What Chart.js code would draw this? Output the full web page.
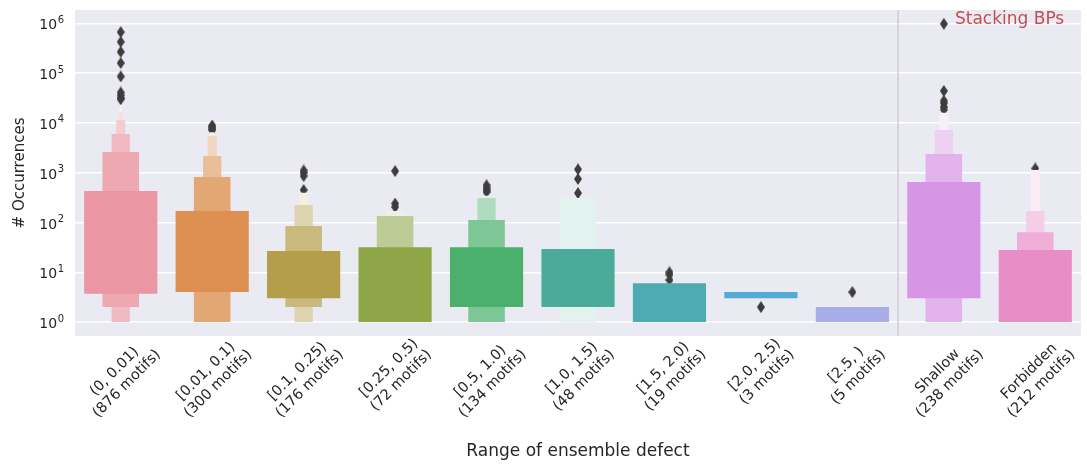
<!DOCTYPE html>
<html><head><meta charset="utf-8">
<script src="https://cdn.jsdelivr.net/npm/chart.js@4.4.0/dist/chart.umd.min.js"></script>
<style>html,body{margin:0;padding:0;background:#fff}#wrap{width:1087px;height:468px;position:relative}</style>
</head><body><div id="wrap"><canvas id="c"></canvas></div>
<script>
// ---- data ----
const categories = ['(0, 0.01)','[0.01, 0.1)','[0.1, 0.25)','[0.25, 0.5)','[0.5, 1.0)','[1.0, 1.5)','[1.5, 2.0)','[2.0, 2.5)','[2.5, )','Shallow','Forbidden'];
const motifCounts = [876,300,176,72,134,48,19,3,5,238,212];
// letter-value boxes, level 1 = widest (middle 50%), each next level narrower
const level1 = [[3.7,428],[4,170],[3,26.7],[1,32],[2,32],[2,29.3],[1,6],[3,4],[1,2],[3,649],[1,28]];
const level2 = [[2,2600],[1,818],[2,85],[1,135],[1,112],[1,310],null,null,null,[1,2370],[1,64]];
const level3 = [[1,5980],[1,2160],[1,224],[1,170],[1,310],null,null,null,null,[1,7190],[1,170]];
const level4 = [[1,11400],[1,5450],[1,396],null,[1,345],null,null,null,null,[1,16000],[1,1130]];
const level5 = [[1,16000],[1,6500],null,null,null,null,null,null,null,null,null];
const level6 = [[1,22900],null,null,null,null,null,null,null,null,null,null];
const outliers = [
  [670000,427000,269000,160000,86000,41000,36000,32000,30000],
  [8900,8300,7700,7200],
  [1110,1000,860,450],
  [1080,240,205],
  [560,500,450,410],
  [1170,750,390],
  [10,9,7],
  [2],
  [4],
  [980000,44000,28000,25000,21000,18500],
  [1220]
];
const yTickValues = [1,10,100,1000,10000,100000,1000000];
const yTickBase = '10';
const yTickExponents = ['0','1','2','3','4','5','6'];
const annotationText = 'Stacking BPs';
const xTitle = 'Range of ensemble defect';
const yTitle = '# Occurrences';

// ---- styles ----
const baseColors = [[234,150,163],[220,143,81],[180,158,74],[142,166,72],[74,176,108],[74,171,154],[78,171,177],[83,171,212],[168,172,232],[215,149,229],[233,141,199]];
const FONT = "'DejaVu Sans', sans-serif";
const levels = [level1,level2,level3,level4,level5,level6];
const nLevels = categories.map((_,i)=>levels.filter(l=>l[i]).length);
function mixColor(rgb,t){return 'rgb('+rgb.map(c=>Math.round(c+(255-c)*t)).join(',')+')';}

const labels = categories.slice();
const datasets = levels.map((lv,li)=>({
  type:'bar',
  data: lv,
  backgroundColor: categories.map((_,i)=>{const k=nLevels[i];return mixColor(baseColors[i], k>1?0.84*li/(k-1):0);}),
  borderWidth:0,
  grouped:false,
  categoryPercentage:1,
  barPercentage:0.8*Math.pow(0.5,li),
  order: li+1
}));

// thin diamond marker
const dia = document.createElement('canvas');
dia.width=8; dia.height=12;
(function(){const g=dia.getContext('2d');g.fillStyle='#3d3d3d';g.beginPath();g.moveTo(4,0);g.lineTo(8,6);g.lineTo(4,12);g.lineTo(0,6);g.closePath();g.fill();})();

const outPts=[];
outliers.forEach((arr,i)=>arr.forEach(v=>outPts.push({x:categories[i],y:v})));
datasets.push({type:'line',data:outPts,showLine:false,pointStyle:dia,pointRadius:5,order:100});

const bgPlugin={id:'bg',beforeDraw(chart){const a=chart.chartArea,c=chart.ctx;c.save();c.fillStyle='#eaeaf2';c.fillRect(a.left,a.top,a.right-a.left,a.bottom-a.top);c.restore();},
  beforeDatasetsDraw(chart){const a=chart.chartArea,c=chart.ctx,x=chart.scales.x.getPixelForValue(8.5);c.save();c.strokeStyle='#cdcdd1';c.lineWidth=1.5;c.beginPath();c.moveTo(x,a.top);c.lineTo(x,a.bottom);c.stroke();c.restore();},
  afterDraw(chart){
    const a=chart.chartArea,c=chart.ctx,xs=chart.scales.x,ys=chart.scales.y;
    c.save();
    // x tick labels, rotated 45deg, centred on tick (matplotlib style)
    c.font='14.5px '+FONT;c.fillStyle='#262626';c.textAlign='center';c.textBaseline='middle';
    const LH=17.4, topY=a.bottom-2;
    categories.forEach((cat,i)=>{
      const lines=[cat,'('+motifCounts[i]+' motifs)'];
      const W=Math.max(...lines.map(l=>c.measureText(l).width));
      const H=lines.length*LH;
      const cx=xs.getPixelForValue(i), cy=topY+(W+H)*Math.SQRT1_2/2;
      c.save();c.translate(cx,cy);c.rotate(-Math.PI/4);
      lines.forEach((l,j)=>c.fillText(l,0,(j-(lines.length-1)/2)*LH));
      c.restore();
    });
    // y tick labels 10^n
    const rightX=a.left-11;
    yTickValues.forEach((v,i)=>{
      const y=ys.getPixelForValue(v);
      c.font='10px '+FONT;const we=c.measureText(yTickExponents[i]).width;
      c.textAlign='left';c.textBaseline='alphabetic';
      c.fillText(yTickExponents[i],rightX-we,y-0.5);
      c.font='14px '+FONT;c.textAlign='right';
      c.fillText(yTickBase,rightX-we-0.5,y+6);
    });
    c.font='17px '+FONT;c.fillStyle='#c44e52';c.textAlign='left';c.textBaseline='alphabetic';
    c.fillText(annotationText,a.right-126,a.top+14);
    c.restore();
  }};

new Chart(document.getElementById('c'),{
  type:'bar',
  data:{labels,datasets},
  options:{
    responsive:true,maintainAspectRatio:false,animation:false,
    layout:{padding:{top:10,right:4,left:0,bottom:0}},
    plugins:{legend:{display:false},tooltip:{enabled:false}},
    scales:{
      x:{
        grid:{display:false},border:{display:false},
        ticks:{display:false},
        title:{display:true,text:xTitle,color:'#262626',font:{family:FONT,size:17},padding:{top:0,bottom:6}},
        afterFit(s){s.height=132;s.paddingLeft=0;s.paddingRight=0;}
      },
      y:{
        type:'logarithmic',min:0.525,max:1.862e6,
        grid:{color:'#ffffff',lineWidth:1.5,drawTicks:false},border:{display:false},
        ticks:{display:false},
        afterBuildTicks(s){s.ticks=yTickValues.map(v=>({value:v}));},
        title:{display:true,text:yTitle,color:'#262626',font:{family:FONT,size:15},padding:{top:11,bottom:0}},
        afterFit(s){s.width=75;s.paddingTop=0;s.paddingBottom=0;}
      }
    }
  },
  plugins:[bgPlugin]
});
</script></body></html>
